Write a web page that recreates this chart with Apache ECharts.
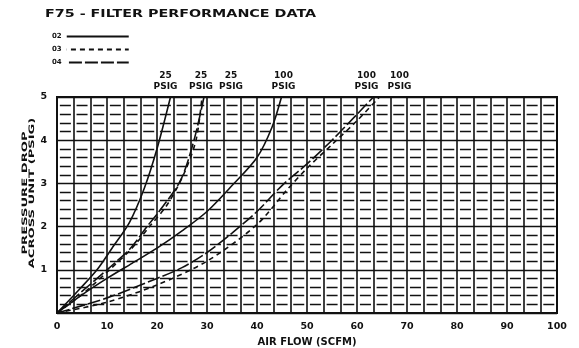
<!DOCTYPE html>
<html>
<head>
<meta charset="utf-8">
<script src="https://cdn.jsdelivr.net/npm/echarts@6/dist/echarts.min.js"></script>
<style>
  html, body { margin: 0; padding: 0; background: #fff; }
  #main { width: 579px; height: 348px; }
</style>
</head>
<body>
<div id="main"></div>
<script>
// air flow (SCFM) and pressure drop (PSIG)
// 25 PSIG curves
const flow02a = [0, 4.5, 8, 11, 14.5, 17.5, 20, 22.7];
const drop02a = [0, 0.55, 1, 1.5, 2.1, 2.9, 3.8, 5];
const flow03a = [0, 5.2, 10.5, 15, 18.5, 22, 25.3, 27.8, 29];
const drop03a = [0, 0.45, 1, 1.5, 2, 2.5, 3.2, 4, 5];
const flow04a = [0, 5, 10, 14.7, 18, 20.1, 24.7, 27.4, 29.4];
const drop04a = [0, 0.5, 1, 1.5, 2, 2.3, 3.07, 4, 5];
// 100 PSIG curves
const flow02b = [0, 5, 10, 15, 20, 25, 30, 35, 40, 43, 44.9];
const drop02b = [0, 0.42, 0.8, 1.15, 1.5, 1.9, 2.35, 2.95, 3.6, 4.3, 5];
const flow04b = [0, 10, 20, 25, 30, 35, 40, 45, 50, 55, 60, 63.3];
const drop04b = [0, 0.35, 0.8, 1.05, 1.4, 1.85, 2.35, 2.95, 3.45, 4.0, 4.6, 5];
const flow03b = [0, 10, 20, 30, 40, 46, 50, 55, 60, 64.5];
const drop03b = [0, 0.25, 0.65, 1.2, 2.05, 2.85, 3.35, 3.9, 4.45, 5];

const xTicks = [0, 10, 20, 30, 40, 50, 60, 70, 80, 90, 100];
const yTicks = [0, 1, 2, 3, 4, 5];
const legendNames = ['02', '03', '04'];

const INK = '#111';
const FONT = 'DejaVu Sans';
const zip = (xs, ys) => xs.map((x, i) => [x, ys[i]]);

const lineTypes = {
  '02': 'solid',
  '03': [5, 4],
  '04': [13, 3]
};

function curve(name, xs, ys, label, dx) {
  return {
    name: name,
    type: 'line',
    smooth: 0.3,
    symbol: 'none',
    color: INK,
    data: zip(xs, ys),
    lineStyle: { color: INK, width: 1.6, type: lineTypes[name] },
    endLabel: {
      show: true,
      formatter: label,
      color: INK,
      fontFamily: FONT,
      fontWeight: 'bold',
      fontSize: 9,
      lineHeight: 11,
      align: 'center',
      verticalAlign: 'bottom',
      distance: 0,
      offset: [dx, -5]
    },
    emphasis: { disabled: true }
  };
}

const chart = echarts.init(document.getElementById('main'));

chart.setOption({
  animation: false,
  backgroundColor: '#fff',
  graphic: [{
    type: 'text',
    x: 45,
    y: 9,
    scaleX: 1.3,
    style: {
      text: 'F75 - FILTER PERFORMANCE DATA',
      font: 'bold 11px "DejaVu Sans"',
      fill: INK
    }
  }, {
    // y axis title, drawn squeezed like the scan
    type: 'text',
    x: 29,
    y: 193,
    rotation: Math.PI / 2,
    scaleX: 1.75,
    style: {
      text: 'PRESSURE DROP\nACROSS UNIT (PSIG)',
      font: 'bold 7.5px "DejaVu Sans"',
      lineHeight: 7,
      fill: INK,
      align: 'center',
      verticalAlign: 'middle'
    }
  }],
  legend: {
    data: legendNames,
    orient: 'vertical',
    left: 47,
    top: 28,
    align: 'right',
    itemWidth: 62,
    itemHeight: 8,
    itemGap: 6,
    itemStyle: { opacity: 0 },
    textStyle: { color: INK, fontSize: 7, fontFamily: FONT, fontWeight: 'bold' }
  },
  grid: {
    left: 57,
    right: 22,
    top: 97,
    bottom: 35,
    outerBoundsMode: 'none',
    show: true,
    borderColor: INK,
    borderWidth: 2
  },
  xAxis: {
    type: 'value',
    min: xTicks[0],
    max: xTicks[xTicks.length - 1],
    interval: 10,
    name: 'AIR FLOW (SCFM)',
    nameLocation: 'middle',
    nameGap: 24,
    nameTextStyle: { color: INK, fontSize: 10, fontWeight: 'bold', fontFamily: FONT },
    axisLine: { show: true, lineStyle: { color: INK, width: 2 } },
    axisTick: { show: false },
    axisLabel: { color: INK, fontSize: 9.5, fontWeight: 'bold', fontFamily: FONT, margin: 9 },
    splitLine: { show: true, lineStyle: { color: INK, width: 1.6 } },
    minorTick: { show: false, splitNumber: 3 },
    minorSplitLine: { show: true, lineStyle: { color: INK, width: 1.6 } }
  },
  yAxis: {
    type: 'value',
    min: yTicks[0],
    max: yTicks[yTicks.length - 1],
    interval: 1,
    axisLine: { show: true, lineStyle: { color: INK, width: 2 } },
    axisTick: { show: false },
    axisLabel: {
      color: INK, fontSize: 9.5, fontWeight: 'bold', fontFamily: FONT, margin: 10,
      formatter: v => (v === 0 ? '' : String(v))
    },
    splitLine: { show: true, lineStyle: { color: INK, width: 1.4 } },
    minorTick: { show: false, splitNumber: 5 },
    minorSplitLine: {
      show: true,
      lineStyle: { color: INK, width: 1.3, type: [11, 5.67], dashOffset: 13.8 }
    }
  },
  series: [
    curve('02', flow02a, drop02a, '25\nPSIG', -5),
    curve('03', flow03a, drop03a, '25\nPSIG', -1),
    curve('04', flow04a, drop04a, '25\nPSIG', 27),
    curve('02', flow02b, drop02b, '100\nPSIG', 2),
    curve('04', flow04b, drop04b, '100\nPSIG', -7),
    curve('03', flow03b, drop03b, '100\nPSIG', 20)
  ]
});
</script>
</body>
</html>
